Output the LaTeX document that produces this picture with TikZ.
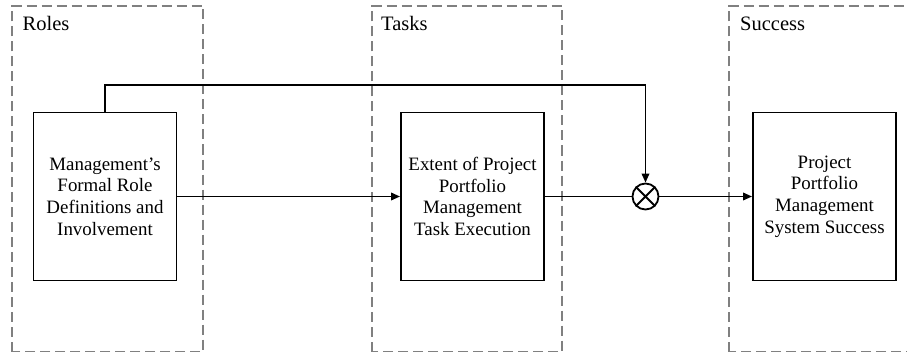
\documentclass[tikz,border=0pt]{standalone}
\usepackage{fontspec}
\setmainfont{Liberation Serif}
\usetikzlibrary{arrows.meta}
\definecolor{framegray}{RGB}{128,128,128}

\begin{document}
\begin{tikzpicture}[x=1pt,y=1pt,
  stage/.style={draw=framegray,line width=1.3pt,dash pattern=on 10pt off 5pt},
  stagelabel/.style={anchor=base west,inner sep=0pt,font=\fontsize{20.5}{24}\selectfont},
  construct/.style={draw,line width=1.9pt,minimum width=143pt,minimum height=168pt,
    align=center,font=\fontsize{18.9}{21.7}\selectfont},
  link/.style={line width=1.8pt,-{Triangle[length=9pt,width=7.5pt]}}]
  \useasboundingbox (0,0) rectangle (907,354);
  % dashed stage frames
  \draw[stage](12,2.5)rectangle(203,348);
  \draw[stage](372,2.5)rectangle(562,348);
  \draw[stage](729,2.5)rectangle(912,348);
  \node[stagelabel] (roles) at (22.5,323) {Roles};
  \node[stagelabel] (tasks) at (381,323) {Tasks};
  \node[stagelabel] (success) at (740,323) {Success};
  % constructs
  \node[construct] (role) at (105,157.5) {Management’s\\Formal Role\\Definitions and\\Involvement};
  \node[construct] (task) at (472.5,157.5) {Extent of Project\\Portfolio\\Management\\Task Execution};
  \node[construct] (ppms) at (824.5,157.5) {Project\\Portfolio\\Management\\System Success};
  % interaction point
  \node[draw,circle,line width=1.8pt,minimum size=26pt,inner sep=0pt] (mult) at (645.5,157.5) {};
  \draw[line width=1.8pt](mult.north east)--(mult.south west) (mult.north west)--(mult.south east);
  % paths
  \coordinate (top) at (0,269);
  \draw[link](role.east)--(task.west);
  \draw[line width=1.8pt](task.east)--(mult.west);
  \draw[link](mult.east)--(ppms.west);
  \draw[link](role.north)--(role.north |- top)-|(mult.north);
\end{tikzpicture}
\end{document}
